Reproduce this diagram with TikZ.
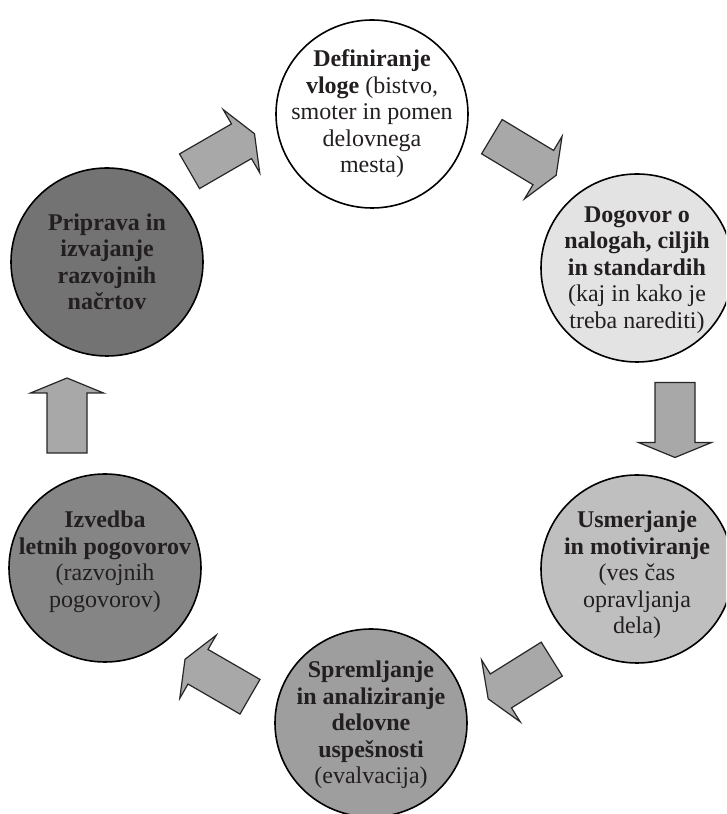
\documentclass[tikz,border=0pt]{standalone}
\usepackage{fontspec}
\setmainfont{Liberation Serif}
\usetikzlibrary{shapes.geometric}

\definecolor{txtgray}{HTML}{231F20}
\definecolor{arrowgray}{HTML}{A8A8A8}

\tikzset{
  stage/.style={ellipse, draw=black, line width=1.6pt, minimum width=192pt,
    minimum height=188pt, inner sep=0pt},
  stagetext/.style={align=center, text=txtgray, font=\fontsize{24}{26.5}\selectfont},
  arrowbody/.style={fill=arrowgray, draw=black!85, line width=1.2pt, line join=miter},
  blockarrow/.pic={
    \draw[arrowbody] (-37.5,-20) -- (22.5,-20) -- (22.5,-36.5) -- (37.5,0)
      -- (22.5,36.5) -- (22.5,20) -- (-37.5,20) -- cycle;
  }
}

\begin{document}
\begin{tikzpicture}[x=1pt, y=1pt]

      \useasboundingbox (0,0) rectangle (726,814);
      \clip (0,0) rectangle (726,814);

      \begin{scope}[every node/.style={stage}]
        \node[fill=white]      (def) at (372,700) {};
        \node[fill=black!11]   (dog) at (637,546) {};
        \node[fill=black!25]   (usm) at (637,245) {};
        \node[fill=black!38]   (spr) at (371,91)  {};
        \node[fill=black!48]   (izv) at (105,246) {};
        \node[fill=black!55]   (pri) at (107,552) {};
      \end{scope}

      \begin{scope}[every node/.style={stagetext}]
        \node (def-t) at (def) {\textbf{Definiranje}\\\textbf{vloge} (bistvo,\\smoter in pomen\\delovnega\\mesta)};
        \node (dog-t) at ([yshift=-2pt]dog) {\textbf{Dogovor o}\\\textbf{nalogah, ciljih}\\\textbf{in standardih}\\(kaj in kako je\\treba narediti)};
        \node (usm-t) at ([yshift=-6pt]usm) {\textbf{Usmerjanje}\\\textbf{in motiviranje}\\(ves čas\\opravljanja\\dela)};
        \node (spr-t) at ([yshift=-2pt]spr) {\textbf{Spremljanje}\\\textbf{in analiziranje}\\\textbf{delovne}\\\textbf{uspešnosti}\\(evalvacija)};
        \node (izv-t) at ([yshift=6pt]izv) {\textbf{Izvedba}\\\textbf{letnih pogovorov}\\(razvojnih\\pogovorov)};
        \node (pri-t) at (pri) {\textbf{Priprava in}\\\textbf{izvajanje}\\\textbf{razvojnih}\\\textbf{načrtov}};
      \end{scope}

      \pic[rotate=30]  at (222,661.5) {blockarrow};
      \pic[rotate=-31] at (524,658)   {blockarrow};
      \pic[rotate=-90] at (675,394)   {blockarrow};
      \pic[rotate=212] at (520,135)   {blockarrow};
      \pic[rotate=150] at (217.5,136) {blockarrow};
      \pic[rotate=90]  at (67,398.5)  {blockarrow};

    \end{tikzpicture}
\end{document}
